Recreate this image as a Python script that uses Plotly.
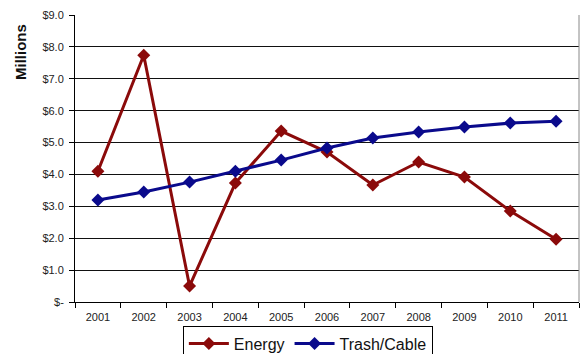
import plotly.graph_objects as go

years = ["2001", "2002", "2003", "2004", "2005", "2006", "2007", "2008", "2009", "2010", "2011"]
energy = [4.10, 7.74, 0.50, 3.73, 5.36, 4.70, 3.67, 4.39, 3.92, 2.85, 1.97]
trash_cable = [3.20, 3.45, 3.76, 4.10, 4.45, 4.83, 5.14, 5.33, 5.49, 5.61, 5.67]

y_ticks = [0, 1, 2, 3, 4, 5, 6, 7, 8, 9]
y_tick_text = ["$-", "$1.0", "$2.0", "$3.0", "$4.0", "$5.0", "$6.0", "$7.0", "$8.0", "$9.0"]

fig = go.Figure()
fig.add_trace(go.Scatter(
    x=years, y=energy, name="Energy", mode="lines+markers",
    line=dict(color="#8B0A0A", width=3),
    marker=dict(symbol="diamond", size=10, color="#8B0A0A"),
))
fig.add_trace(go.Scatter(
    x=years, y=trash_cable, name="Trash/Cable", mode="lines+markers",
    line=dict(color="#0A0A8C", width=3),
    marker=dict(symbol="diamond", size=10, color="#0A0A8C"),
))

fig.update_layout(
    width=583, height=354,
    margin=dict(l=75, r=4, t=15, b=52, autoexpand=False),
    paper_bgcolor="white", plot_bgcolor="white",
    font=dict(family="Arial, Liberation Sans, sans-serif", size=11, color="#222"),
    showlegend=True,
    legend=dict(
        orientation="h", x=0.214, y=-0.082, xanchor="left", yanchor="top",
        bordercolor="black", borderwidth=1, bgcolor="white",
        font=dict(size=16, color="#111"),
        itemwidth=40, tracegroupgap=0,
    ),
    xaxis=dict(
        type="category", showgrid=False, showline=True, linecolor="black", linewidth=1,
        ticks="outside", tickson="boundaries", ticklen=5, tickcolor="black",
        ticklabelstandoff=5,
        tickfont=dict(size=11, color="#222"), range=[-0.5, 10.5],
    ),
    yaxis=dict(
        range=[0, 9], tickvals=y_ticks, ticktext=y_tick_text,
        showgrid=True, gridcolor="#111", gridwidth=1,
        showline=True, linecolor="black", linewidth=1,
        ticks="outside", ticklen=5, tickcolor="black",
        ticklabelstandoff=3,
        tickfont=dict(size=11, color="#222"), zeroline=False,
    ),
    shapes=[dict(type="line", xref="paper", yref="paper", x0=1, x1=1, y0=0, y1=1,
                 line=dict(color="#888", width=1))],
    annotations=[dict(
        text="<b>Millions</b>", textangle=-90, showarrow=False,
        xref="paper", yref="paper", x=(20 - 75) / 504, y=(302 - 52) / 287,
        xanchor="center", yanchor="middle", font=dict(size=15, color="#111"),
    )],
)

fig.write_html("out.html")
